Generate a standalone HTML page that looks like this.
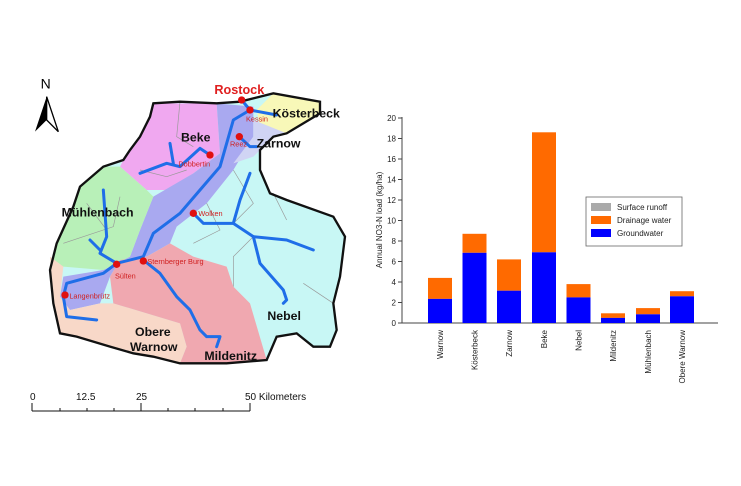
<!DOCTYPE html>
<html><head><meta charset="utf-8"><style>
html,body{margin:0;padding:0;background:#fff;}
svg{display:block;font-family:"Liberation Sans",Arial,sans-serif;}
</style></head><body>
<svg width="741" height="486" viewBox="0 0 741 486" xmlns="http://www.w3.org/2000/svg">
<rect width="741" height="486" fill="#fff"/>
<g transform="translate(20,70) scale(0.33333)">
  <path d="M400,100 L480,95 L590,100 L660,95 L760,70 L900,95 L900,130 L800,190 L760,200 L720,240 L720,300 L750,370 L800,390 L940,440 L975,500 L960,620 L940,700 L950,780 L930,830 L880,830 L830,790 L770,800 L740,870 L620,880 L560,880 L480,880 L400,860 L340,850 L270,830 L170,800 L120,790 L100,700 L90,600 L110,520 L160,410 L180,350 L250,290 L310,270 L330,240 L360,200 L390,140 Z" fill="#c8f7f5"/>
  <path d="M400,100 L590,100 L600,250 L520,310 L440,360 L380,360 L300,290 L320,250 L360,200 L390,140 Z" fill="#f0a8f0"/>
  <path d="M590,100 L700,110 L700,200 L640,300 L560,400 L470,470 L450,520 L380,560 L300,570 L270,620 L240,700 L150,720 L120,680 L130,620 L250,600 L330,560 L360,480 L400,380 L520,310 L600,250 Z" fill="#a9a9f0"/>
  <path d="M760,70 L900,95 L900,130 L800,190 L720,170 L710,120 Z" fill="#f8f8b8"/>
  <path d="M700,150 L800,190 L760,200 L720,240 L700,260 L640,280 L700,200 Z" fill="#d0d4f4"/>
  <path d="M180,350 L250,290 L300,290 L380,360 L400,380 L360,480 L330,560 L250,600 L130,590 L90,600 L110,520 L160,410 Z" fill="#b8f0b8"/>
  <path d="M90,560 L130,590 L120,680 L150,720 L240,700 L280,700 L480,760 L500,830 L480,880 L400,860 L270,830 L170,800 L120,790 L100,700 Z" fill="#f8d8c8"/>
  <path d="M300,570 L380,560 L450,520 L520,560 L620,590 L640,650 L690,700 L740,870 L620,880 L480,880 L500,830 L480,760 L280,700 L270,620 Z" fill="#f0a8b0"/>
  <g fill="none" stroke="#999" stroke-width="2">
    <path d="M480,95 L470,200 L520,230 M360,300 L440,320 L500,300 M640,300 L700,400 L640,460 M560,400 L600,480 L520,520 M700,500 L640,560 L640,650 M760,370 L800,450 M200,400 L260,480 M300,380 L280,470 L130,520 M850,640 L940,700"/>
  </g>
  <path d="M400,100 L480,95 L590,100 L660,95 L760,70 L900,95 L900,130 L800,190 L760,200 L720,240 L720,300 L750,370 L800,390 L940,440 L975,500 L960,620 L940,700 L950,780 L930,830 L880,830 L830,790 L770,800 L740,870 L620,880 L560,880 L480,880 L400,860 L340,850 L270,830 L170,800 L120,790 L100,700 L90,600 L110,520 L160,410 L180,350 L250,290 L310,270 L330,240 L360,200 L390,140 Z" fill="none" stroke="#111" stroke-width="7"/>
  <g fill="none" stroke="#1f6ee8" stroke-width="9" stroke-linecap="round" stroke-linejoin="round">
    <path d="M665,90 L690,120 L640,150 L600,290 L540,360 L480,430 L400,490 L370,560 L290,580 L250,610 L140,640 L130,680 L140,740 L230,750"/>
    <path d="M690,120 L770,135"/>
    <path d="M370,570 L420,610 L470,680 L510,720 L540,780 L560,800 L600,800 L590,830"/>
    <path d="M520,430 L550,460 L640,460 L700,500 L720,580 L790,660 L800,690 L790,700"/>
    <path d="M700,500 L800,510 L880,540"/>
    <path d="M690,310 L660,390 L640,460"/>
    <path d="M360,310 L440,280 L480,290 L540,235 L570,255"/>
    <path d="M450,220 L460,280"/>
    <path d="M250,360 L260,500 L240,550 L290,580"/>
    <path d="M210,510 L240,540"/>
    <path d="M658,200 L690,230 L710,230"/>
  </g>
  <g fill="#e01010">
    <circle cx="665" cy="90" r="11"/><circle cx="690" cy="120" r="11"/><circle cx="658" cy="200" r="11"/>
    <circle cx="570" cy="255" r="11"/><circle cx="520" cy="430" r="11"/><circle cx="370" cy="573" r="11"/>
    <circle cx="290" cy="583" r="11"/><circle cx="135" cy="675" r="11"/>
  </g>
  <g fill="#d02020" font-size="22">
    <text x="678" y="155">Kessin</text><text x="630" y="230">Reez</text><text x="475" y="290">Dobbertin</text>
    <text x="535" y="438">Wolken</text><text x="382" y="582">Sternberger Burg</text><text x="285" y="625">Sülten</text>
    <text x="148" y="685">Langenbrütz</text>
  </g>
  <text x="583" y="72" font-size="38" font-weight="bold" fill="#e02020">Rostock</text>
  <g font-size="37" fill="#111" font-weight="600">
    <text x="758" y="142">Kösterbeck</text>
    <text x="483" y="215" font-weight="bold">Beke</text>
    <text x="710" y="232">Zarnow</text>
    <text x="125" y="440">Mühlenbach</text>
    <text x="742" y="750">Nebel</text>
    <text x="345" y="798">Obere</text>
    <text x="330" y="843">Warnow</text>
    <text x="553" y="870">Mildenitz</text>
  </g>
  <text x="62" y="55" font-size="42" fill="#000">N</text>
  <path d="M80,80 L45,185 L80,150 Z" fill="#000"/>
  <path d="M80,80 L115,185 L80,150 Z" fill="#fff" stroke="#000" stroke-width="4"/>
</g>
<g font-size="10" fill="#111">
  <text x="30" y="400">0</text><text x="76" y="400">12.5</text><text x="136" y="400">25</text><text x="245" y="400">50 Kilometers</text>
</g>
<g stroke="#111" stroke-width="1" fill="none">
  <path d="M32,411 L250,411 M32,403 L32,411 M141,403 L141,411 M250,403 L250,411 M60,408 V411 M87,408 V411 M114,408 V411 M168,408 V411 M195,408 V411 M223,408 V411"/>
</g>
<g font-size="8" fill="#222">
  <line x1="402" y1="117" x2="402" y2="323" stroke="#444" stroke-width="1"/>
  <line x1="402" y1="323" x2="718" y2="323" stroke="#444" stroke-width="1"/>
  <g stroke="#444">
    <line x1="398" y1="323" x2="402" y2="323"/><line x1="398" y1="302.5" x2="402" y2="302.5"/><line x1="398" y1="282" x2="402" y2="282"/><line x1="398" y1="261.5" x2="402" y2="261.5"/><line x1="398" y1="241" x2="402" y2="241"/><line x1="398" y1="220.5" x2="402" y2="220.5"/><line x1="398" y1="200" x2="402" y2="200"/><line x1="398" y1="179.5" x2="402" y2="179.5"/><line x1="398" y1="159" x2="402" y2="159"/><line x1="398" y1="138.5" x2="402" y2="138.5"/><line x1="398" y1="118" x2="402" y2="118"/>
  </g>
  <g text-anchor="end">
    <text x="396" y="326">0</text><text x="396" y="305.5">2</text><text x="396" y="285">4</text><text x="396" y="264.5">6</text><text x="396" y="244">8</text><text x="396" y="223.5">10</text><text x="396" y="203">12</text><text x="396" y="182.5">14</text><text x="396" y="162">16</text><text x="396" y="141.5">18</text><text x="396" y="121">20</text>
  </g>
  <text transform="translate(382,220) rotate(-90)" text-anchor="middle">Annual NO3-N load (kg/ha)</text>
  <g>
    <rect x="428" y="277.9" width="24" height="21.0" fill="#ff6a00"/><rect x="428" y="298.9" width="24" height="24.1" fill="#0000ff"/>
    <rect x="462.5" y="233.8" width="24" height="19.0" fill="#ff6a00"/><rect x="462.5" y="252.8" width="24" height="70.2" fill="#0000ff"/>
    <rect x="497" y="259.4" width="24" height="31.3" fill="#ff6a00"/><rect x="497" y="290.7" width="24" height="32.3" fill="#0000ff"/>
    <rect x="532" y="132.3" width="24" height="120" fill="#ff6a00"/><rect x="532" y="252.3" width="24" height="70.7" fill="#0000ff"/>
    <rect x="566.5" y="284.1" width="24" height="13.3" fill="#ff6a00"/><rect x="566.5" y="297.4" width="24" height="25.6" fill="#0000ff"/>
    <rect x="601" y="313.3" width="24" height="4.6" fill="#ff6a00"/><rect x="601" y="317.9" width="24" height="5.1" fill="#0000ff"/>
    <rect x="636" y="308.1" width="24" height="6.2" fill="#ff6a00"/><rect x="636" y="314.3" width="24" height="8.7" fill="#0000ff"/>
    <rect x="670" y="291.2" width="24" height="5.1" fill="#ff6a00"/><rect x="670" y="296.3" width="24" height="26.7" fill="#0000ff"/>
  </g>
  <g text-anchor="end">
    <text transform="translate(443,330) rotate(-90)">Warnow</text>
    <text transform="translate(477.5,330) rotate(-90)">Kösterbeck</text>
    <text transform="translate(512,330) rotate(-90)">Zarnow</text>
    <text transform="translate(547,330) rotate(-90)">Beke</text>
    <text transform="translate(581.5,330) rotate(-90)">Nebel</text>
    <text transform="translate(616,330) rotate(-90)">Mildenitz</text>
    <text transform="translate(651,330) rotate(-90)">Mühlenbach</text>
    <text transform="translate(685,330) rotate(-90)">Obere Warnow</text>
  </g>
  <rect x="586" y="197" width="96" height="49" fill="#fff" stroke="#666" stroke-width="0.8"/>
  <rect x="591" y="203" width="20" height="8" fill="#aaa"/><text x="617" y="210">Surface runoff</text>
  <rect x="591" y="216" width="20" height="8" fill="#ff6a00"/><text x="617" y="223">Drainage water</text>
  <rect x="591" y="229" width="20" height="8" fill="#0000ff"/><text x="617" y="236">Groundwater</text>
</g>
</svg>
</body></html>
